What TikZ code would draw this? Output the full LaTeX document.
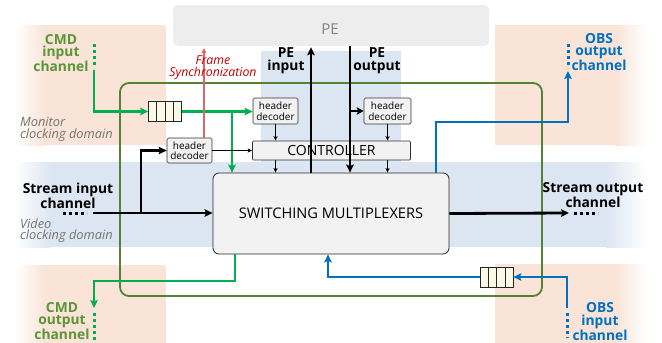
\documentclass[tikz,border=0pt]{standalone}
\usepackage{fontspec}
\setmainfont{Open Sans}
\usetikzlibrary{arrows.meta,calc}
\definecolor{peach}{HTML}{F9E4D7}
\definecolor{bandblue}{HTML}{DCE6F2}
\definecolor{pegray}{HTML}{EDEDED}
\definecolor{boxgray}{HTML}{F2F2F2}
\definecolor{fifofill}{HTML}{FAFAE6}
\definecolor{chgreen}{HTML}{00B050}
\definecolor{olive}{HTML}{548235}
\definecolor{txtgreen}{HTML}{5A9538}
\definecolor{chblue}{HTML}{0070C0}
\definecolor{syncred}{HTML}{C00000}
\definecolor{syncline}{HTML}{D9666A}
\tikzset{
  hdbox/.style={draw=black!80, fill=boxgray, rounded corners=1.5pt, align=center, inner sep=0pt, line width=0.7pt, font=\fontsize{10}{10.5}\selectfont},
  fifobox/.style={draw=black!85, fill=fifofill, line width=0.7pt, minimum width=33pt, minimum height=20pt, inner sep=0pt},
  thickblk/.style={line width=2.8pt, -{Stealth[length=8pt,width=7.5pt,inset=1.5pt]}},
  thinarr/.style={line width=0.7pt, -{Stealth[length=4.5pt,width=4pt,inset=1pt]}},
  grnline/.style={draw=chgreen, line width=2.6pt, -{Stealth[length=8pt,width=7.5pt,inset=1.5pt]}},
  bluline/.style={draw=chblue, line width=2.6pt, -{Stealth[length=8pt,width=7.5pt,inset=1.5pt]}},
  dotsg/.style={draw=chgreen, line width=3pt, dash pattern=on 3pt off 3pt},
  dotsb/.style={draw=chblue, line width=3pt, dash pattern=on 3pt off 3pt},
  dotsk/.style={draw=black, line width=3pt, dash pattern=on 3pt off 3pt},
  chlabel/.style={align=center, inner sep=0pt, font=\fontsize{13.8}{12.8}\selectfont\bfseries},
  domlabel/.style={align=left, anchor=west, inner sep=0pt, text=black!55, font=\fontsize{12.8}{11.5}\selectfont\itshape},
}
\begin{document}
\begin{tikzpicture}[x=1pt,y=-1pt]
\useasboundingbox (0,0) rectangle (662,343);
% background regions
\fill[peach] (15,25) rectangle (166,145);
\shade[left color=white, right color=peach] (15,25) rectangle (45,145);
\fill[peach] (495,25) rectangle (646,145);
\shade[left color=peach, right color=white] (616,25) rectangle (646,145);
\fill[peach] (15,265) rectangle (166,343);
\shade[left color=white, right color=peach] (15,265) rectangle (45,343);
\fill[peach] (495,264) rectangle (646,343);
\shade[left color=peach, right color=white] (616,264) rectangle (646,343);
\fill[bandblue] (15,162) rectangle (646,247);
\shade[left color=white, right color=bandblue] (15,162) rectangle (50,247);
\shade[left color=bandblue, right color=white] (606,162) rectangle (646,247);
\fill[bandblue] (261,51) rectangle (401,162);
% PE
\node[fill=pegray, rounded corners=5pt, minimum width=316pt, minimum height=41pt, inner sep=0pt] (pe) at (331,25.5) {};
\node[text=black!50, font=\fontsize{15}{15}\selectfont] (petxt) at (330,29) {PE};
% boundary
\draw[olive, line width=1.8pt, rounded corners=9pt] (120,83) rectangle (542,296);
% boxes
\node[fifobox] (fifo1) at (165,111.5) {};
\node[fifobox] (fifo2) at (496.5,277) {};
\foreach \f in {fifo1,fifo2}
  \foreach \k in {1,2,3}
    \draw[black!85, line width=0.7pt] ($(\f.south west)!\k/4!(\f.south east)$) -- ($(\f.north west)!\k/4!(\f.north east)$);
\node[hdbox, minimum width=45pt, minimum height=26pt] (hd1) at (275.5,111) {header\\decoder};
\node[hdbox, minimum width=45pt, minimum height=25pt] (hd2) at (189.5,150.5) {header\\decoder};
\node[hdbox, minimum width=47pt, minimum height=26pt] (hd3) at (387.5,111) {header\\decoder};
\node[hdbox, minimum width=158pt, minimum height=19pt, rounded corners=1pt, font=\fontsize{14}{14}\selectfont] (ctrl) at (331.5,150.5) {CONTROLLER};
\node[draw=black!85, fill=boxgray, line width=0.8pt, rounded corners=6pt, minimum width=236pt, minimum height=81pt, inner sep=0pt, font=\fontsize{14.6}{14.6}\selectfont] (sw) at (331,213.5) {SWITCHING MULTIPLEXERS};
% coordinates
\coordinate (cmdin) at (94,70);
\coordinate (j1) at (232,111.5);
\coordinate (sin) at (93,213);
\coordinate (j2) at (141,213);
\coordinate (pei) at (311,0);
\coordinate (peo) at (350,0);
\coordinate (fs) at (204,0);
\coordinate (sout) at (569,213);
\coordinate (obo) at (436,0);
\coordinate (obturn) at (568,122);
\coordinate (obtip) at (568,71);
\coordinate (obin) at (567,308);
\coordinate (obib) at (328,277);
\coordinate (cmdo) at (235,281);
\coordinate (cmdotip) at (94,308);
\coordinate (c1) at (275.5,0);
\coordinate (c2) at (387.5,0);
% green CMD input
\draw[grnline] (cmdin) |- (fifo1.west);
\draw[grnline] (fifo1.east) -- (fifo1.east -| hd1.west);
\draw[grnline] (j1) -- (j1 |- sw.north);
\draw[dotsg] (94,44) -- (94,68);
% stream input
\draw[thickblk] (sin) -- (sin -| sw.west);
\draw[thickblk] (j2) |- (hd2.west);
\draw[dotsk] (63,213) -- (87,213);
% header decoder arrows
\draw[thinarr] (hd2.east) -- (hd2.east -| ctrl.west);
\draw[thinarr] (hd1.south) -- (hd1.south |- ctrl.north);
\draw[thinarr] (hd3.south) -- (hd3.south |- ctrl.north);
\draw[thinarr] (c1 |- ctrl.south) -- (c1 |- sw.north);
\draw[thinarr] (c2 |- ctrl.south) -- (c2 |- sw.north);
% PE arrows
\draw[thickblk] (pei |- sw.north) -- ($(pei |- pe.south)+(0,1)$);
\draw[thickblk] (peo |- pe.south) -- (peo |- sw.north);
\draw[line width=2.8pt, -{Stealth[length=7pt,width=7.5pt,inset=1.5pt]}] (peo |- hd3.west) -- (hd3.west);
% frame sync
\draw[syncline, line width=1.2pt, -{Stealth[length=5pt,width=5pt,inset=1pt]}] (fs |- hd2.north) -- ($(fs |- pe.south)+(0,2)$);
\node[text=syncred, font=\fontsize{12.3}{11.5}\selectfont\itshape, align=center, inner sep=0pt] (fstxt) at (213,67.5) {Frame\\Synchronization};
% stream output
\draw[thickblk] (sw.east) -- (sout);
\draw[dotsk] (574,213) -- (598,213);
% OBS output
\draw[bluline] (obo |- sw.north) |- (obturn) -- (obtip);
\draw[dotsb] (568,44) -- (568,68);
% OBS input
\draw[bluline] (obin) |- (fifo2.east);
\draw[bluline] (fifo2.west) -| (sw.south -| obib);
\draw[dotsb] (567,313) -- (567,338);
% CMD output
\draw[grnline] (sw.south -| cmdo) |- (cmdotip |- cmdo) -- (cmdotip);
\draw[dotsg] (94,313) -- (94,340);
% labels
\node[chlabel, text=txtgreen] (cmdinl) at (61,53) {CMD\\input\\channel};
\node[chlabel, text=txtgreen] (cmdoutl) at (62,321) {CMD\\output\\channel};
\node[chlabel, text=chblue] (oboutl) at (599,52) {OBS\\output\\channel};
\node[chlabel, text=chblue] (obinl) at (600,321.5) {OBS\\input\\channel};
\node[chlabel] (sinl) at (68,196) {Stream input\\channel};
\node[chlabel] (soutl) at (593,195) {Stream output\\channel};
\node[chlabel] (peinl) at (286,61) {PE\\input};
\node[chlabel] (peoutl) at (377,61) {PE\\output};
\node[domlabel] (mon) at (20,129.5) {Monitor\\clocking domain};
\node[domlabel] (vid) at (20,230.5) {Video\\clocking domain};
\end{tikzpicture}
\end{document}
